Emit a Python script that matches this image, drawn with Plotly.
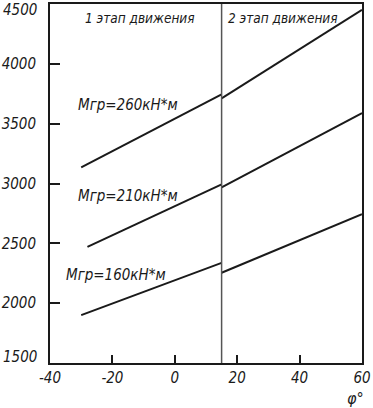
import plotly.graph_objects as go

# data
phi_s1_260 = [-30, 15]
m_s1_260 = [3135, 3745]
phi_s2 = [15, 60]
m_s2_260 = [3712, 4452]

phi_s1_210 = [-28, 15]
m_s1_210 = [2470, 2992]
m_s2_210 = [2967, 3589]

phi_s1_160 = [-30, 15]
m_s1_160 = [1900, 2337]
m_s2_160 = [2254, 2744]

stage_boundary = 15
x_ticks = [-40, -20, 0, 20, 40, 60]
x_tick_text = ["-40", "-20", "0", "20", "40", "60"]
y_ticks = [2000, 2500, 3000, 3500, 4000]
y_edge_ticks = [1500, 4500]

FONT = "DejaVu Sans Condensed, Liberation Sans Narrow, DejaVu Sans"
INK = "#1a1a1a"
TICK_SIZE = 15

fig = go.Figure()
line = dict(color=INK, width=2)
for xs, ys in [(phi_s1_260, m_s1_260), (phi_s2, m_s2_260),
               (phi_s1_210, m_s1_210), (phi_s2, m_s2_210),
               (phi_s1_160, m_s1_160), (phi_s2, m_s2_160)]:
    fig.add_trace(go.Scatter(x=xs, y=ys, mode="lines", line=line,
                             showlegend=False, hoverinfo="skip"))

fig.add_shape(type="line", xref="x", yref="paper", x0=stage_boundary, x1=stage_boundary,
              y0=0, y1=1, line=dict(color="#555555", width=1.5))

ann_font = dict(family=FONT, size=16, color=INK, style="italic")
labels = [
    ("1 этап движения", -29.3, 4385, 13.5),
    ("2 этап движения", 16.5, 4385, 13.5),
    ("Mгр=260кН*м", -31.8, 3660, 15),
    ("Mгр=210кН*м", -31.8, 2895, 15),
    ("Mгр=160кН*м", -35.6, 2235, 15),
]
for txt, x, y, sz in labels:
    f = dict(ann_font)
    f["size"] = sz
    fig.add_annotation(text=txt, x=x, y=y, xref="x", yref="y", showarrow=False,
                       xanchor="left", yanchor="middle", font=f)

# edge y tick labels (shifted inside like the reference)
edge_font = dict(ann_font)
edge_font["size"] = TICK_SIZE
for v, shift in zip(y_edge_ticks, [6, -6]):
    fig.add_annotation(text=str(v), x=0, xref="paper", y=v, yref="y", showarrow=False,
                       xanchor="right", yanchor="middle", xshift=-11, yshift=shift,
                       font=edge_font)

fig.add_annotation(text="φ°", x=1, xref="paper", y=0, yref="paper", showarrow=False,
                   xanchor="right", yanchor="top", yshift=-24, xshift=4, font=ann_font)

tick_font = dict(family=FONT, size=TICK_SIZE, color=INK, style="italic")
fig.update_layout(
    width=373, height=408,
    margin=dict(l=50, r=11, t=4, b=45),
    plot_bgcolor="white", paper_bgcolor="white",
    font=dict(family=FONT, size=16, color=INK, style="italic"),
    xaxis=dict(range=[-40, 60], tickvals=x_ticks, ticktext=x_tick_text,
               ticks="inside", ticklen=8, tickwidth=2, tickcolor=INK,
               showline=True, linewidth=2, linecolor=INK, mirror=True,
               showgrid=False, zeroline=False, ticklabelstandoff=0,
               tickfont=tick_font, automargin=False),
    yaxis=dict(range=[1500, 4500], tickvals=y_ticks,
               ticks="inside", ticklen=10, tickwidth=2, tickcolor=INK,
               showline=True, linewidth=2, linecolor=INK, mirror=True,
               showgrid=False, zeroline=False, ticklabelstandoff=9,
               tickfont=tick_font, automargin=False),
)

fig.write_html("out.html", config={"displayModeBar": False},
               post_script="document.body.style.margin='0';document.body.style.padding='0';")
